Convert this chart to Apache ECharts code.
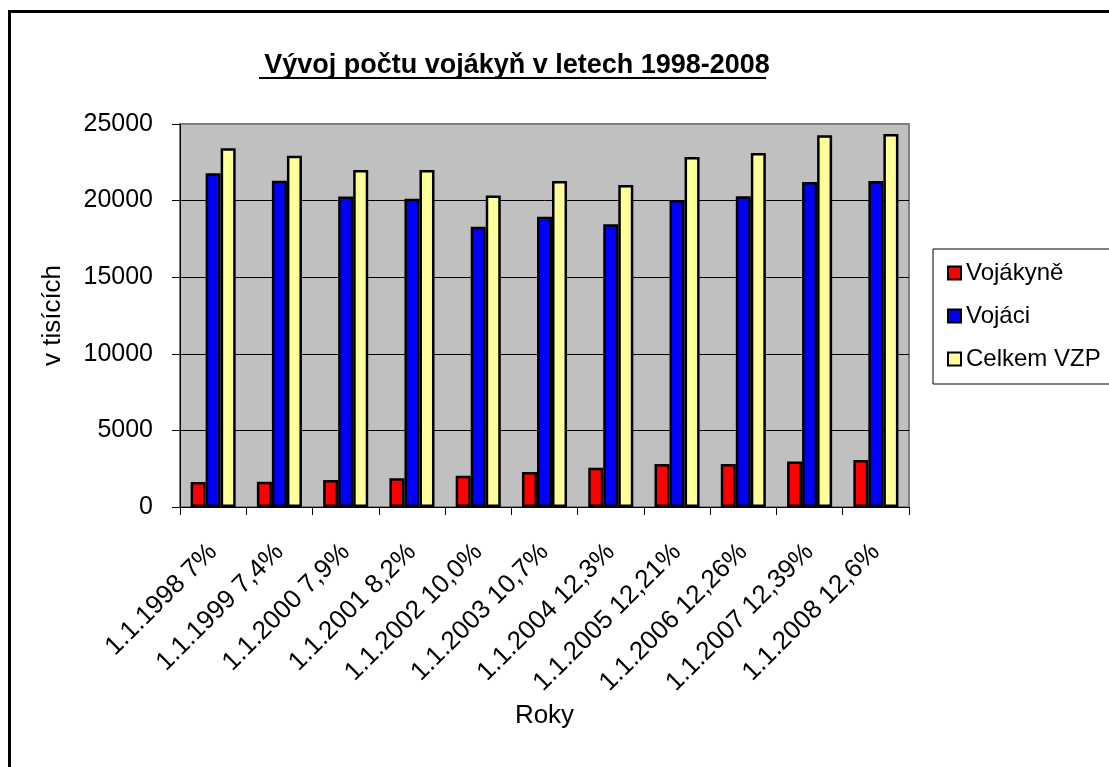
<!DOCTYPE html>
<html>
<head>
<meta charset="utf-8">
<script src="https://cdn.jsdelivr.net/npm/echarts@6/dist/echarts.min.js"></script>
<style>
html,body{margin:0;padding:0;background:#fff;}
#c{width:1109px;height:767px;}
</style>
</head>
<body>
<div id="c"></div>
<script>
const categories = ['1.1.1998 7%', '1.1.1999 7,4%', '1.1.2000 7,9%', '1.1.2001 8,2%', '1.1.2002 10,0%', '1.1.2003 10,7%', '1.1.2004 12,3%', '1.1.2005 12,21%', '1.1.2006 12,26%', '1.1.2007 12,39%', '1.1.2008 12,6%'];
const vojakyne = [1640, 1650, 1760, 1880, 2040, 2280, 2560, 2800, 2810, 2970, 3070];
const vojaci = [21780, 21300, 20260, 20120, 18300, 18950, 18450, 20040, 20280, 21210, 21280];
const celkem = [23410, 22930, 22000, 22000, 20340, 21280, 21020, 22850, 23110, 24260, 24350];
const yTicks = [0, 5000, 10000, 15000, 20000, 25000];

const FONT = 'Liberation Sans, Arial, sans-serif';
const chart = echarts.init(document.getElementById('c'), null, {renderer: 'canvas'});

function bar(name, data, color) {
  return {
    name: name, type: 'bar', data: data,
    barGap: '0%', barCategoryGap: '32%',
    itemStyle: {color: color, borderColor: '#000', borderWidth: 2.5},
    emphasis: {disabled: true}
  };
}

chart.setOption({
  animation: false,
  backgroundColor: '#fff',
  textStyle: {fontFamily: FONT},
  title: {
    text: 'Vývoj počtu vojákyň v letech 1998-2008',
    left: 512, top: 47, textAlign: 'center',
    textStyle: {fontFamily: FONT, fontSize: 27, fontWeight: 'bold', color: '#000'}
  },
  graphic: [
    {type: 'rect', shape: {x: 9.5, y: 11.5, width: 1300, height: 900}, style: {fill: 'none', stroke: '#000', lineWidth: 3}, silent: true},
    {type: 'line', shape: {x1: 259, y1: 78, x2: 766, y2: 78}, style: {stroke: '#000', lineWidth: 2}, silent: true}
  ],
  legend: {
    orient: 'vertical', left: 933, top: 249,
    padding: [12, 14, 13, 14],
    itemGap: 19, itemWidth: 13, itemHeight: 13, icon: 'rect',
    selectedMode: false,
    backgroundColor: '#fff', borderColor: '#000', borderWidth: 1,
    textStyle: {fontFamily: FONT, fontSize: 24, color: '#000'},
    data: ['Vojákyně', 'Vojáci', 'Celkem VZP']
  },
  grid: {
    left: 180, top: 124, right: 200, bottom: 260,
    show: true, backgroundColor: '#C0C0C0', borderColor: '#808080', borderWidth: 2
  },
  xAxis: {
    type: 'category', data: categories,
    name: 'Roky', nameLocation: 'middle', nameGap: 196,
    nameTextStyle: {fontFamily: FONT, fontSize: 26, color: '#000'},
    axisLine: {lineStyle: {color: '#000', width: 1}},
    axisTick: {show: true, length: 8, lineStyle: {color: '#000'}},
    axisLabel: {rotate: 45, margin: 41, interval: 0, fontFamily: FONT, fontSize: 26, color: '#000'}
  },
  yAxis: {
    type: 'value', min: yTicks[0], max: yTicks[yTicks.length - 1], interval: yTicks[1] - yTicks[0],
    name: 'v tisících', nameLocation: 'middle', nameGap: 114, nameRotate: 90,
    nameTextStyle: {fontFamily: FONT, fontSize: 26, color: '#000'},
    axisLine: {show: true, lineStyle: {color: '#000', width: 1}},
    axisTick: {show: true, length: 8, lineStyle: {color: '#000'}},
    axisLabel: {margin: 27, fontFamily: FONT, fontSize: 25, color: '#000', formatter: function (v) { return String(v); }},
    splitLine: {show: true, lineStyle: {color: ['#000', '#000', '#000', '#000', '#000', '#808080'], width: 1}}
  },
  series: [
    bar('Vojákyně', vojakyne, '#FF0000'),
    bar('Vojáci', vojaci, '#0000FF'),
    bar('Celkem VZP', celkem, '#FFFF99')
  ]
});
</script>
</body>
</html>
